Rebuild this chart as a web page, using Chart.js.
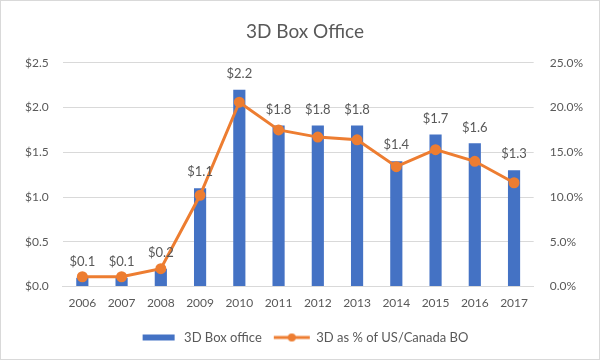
<!DOCTYPE html>
<html>
<head>
<meta charset="utf-8">
<script src="https://cdn.jsdelivr.net/npm/chart.js@4/dist/chart.umd.min.js"></script>
<style>
  html, body { margin: 0; padding: 0; background: #fff; }
  #wrap { width: 600px; height: 360px; box-sizing: border-box; border: 1px solid #d9d9d9; }
  #chart { display: block; }
</style>
</head>
<body>
<div id="wrap"><canvas id="chart" width="598" height="358"></canvas></div>
<script>
const years = ['2006', '2007', '2008', '2009', '2010', '2011', '2012', '2013', '2014', '2015', '2016', '2017'];
const boxOffice = [0.1, 0.1, 0.2, 1.1, 2.2, 1.8, 1.8, 1.8, 1.4, 1.7, 1.6, 1.3];
const sharePct = [1.1, 1.1, 2.0, 10.2, 20.6, 17.5, 16.7, 16.4, 13.4, 15.3, 14.0, 11.6];

const BLUE = '#4472C4';
const ORANGE = '#ED7D31';
const GREY = '#595959';
const FONT = 'Lato, "Open Sans", sans-serif';

// little pictures for the legend
function legendIcon(kind) {
  const c = document.createElement('canvas');
  c.width = 38; c.height = 10;
  const g = c.getContext('2d');
  if (kind === 'bar') {
    g.fillStyle = BLUE;
    g.fillRect(2, 2, 32, 6);
  } else {
    g.strokeStyle = ORANGE;
    g.lineWidth = 3;
    g.beginPath(); g.moveTo(1, 5); g.lineTo(37, 5); g.stroke();
    g.fillStyle = ORANGE;
    g.beginPath(); g.arc(19, 5, 4, 0, Math.PI * 2); g.fill();
  }
  return c;
}

// "$x.x" above each bar
const barLabels = {
  id: 'barLabels',
  afterDatasetsDraw(chart) {
    const ctx = chart.ctx;
    const meta = chart.getDatasetMeta(1);
    ctx.save();
    ctx.font = '13px ' + FONT;
    ctx.fillStyle = GREY;
    ctx.textAlign = 'center';
    ctx.textBaseline = 'middle';
    meta.data.forEach((bar, i) => {
      ctx.fillText('$' + boxOffice[i].toFixed(1), bar.x, bar.y - 16);
    });
    ctx.restore();
  }
};

new Chart(document.getElementById('chart'), {
  type: 'bar',
  data: {
    labels: years,
    datasets: [
      {
        type: 'line',
        label: '3D as % of US/Canada BO',
        data: sharePct,
        yAxisID: 'y2',
        borderColor: ORANGE,
        backgroundColor: ORANGE,
        borderWidth: 3,
        pointRadius: 4,
        pointHoverRadius: 4,
        tension: 0,
        order: 0
      },
      {
        type: 'bar',
        label: '3D Box office',
        data: boxOffice,
        yAxisID: 'y',
        backgroundColor: BLUE,
        categoryPercentage: 1,
        barPercentage: 0.31,
        order: 1
      }
    ]
  },
  options: {
    responsive: false,
    animation: false,
    layout: { padding: { left: 10, right: 0, top: 7, bottom: 5 } },
    plugins: {
      title: {
        display: true,
        text: '3D Box Office',
        color: GREY,
        font: { family: FONT, size: 19, weight: 'normal' },
        padding: { top: 12, bottom: 20 }
      },
      legend: {
        position: 'bottom',
        labels: {
          color: GREY,
          font: { family: FONT, size: 13 },
          usePointStyle: true,
          pointStyleWidth: 36,
          boxHeight: 10,
          padding: 12,
          generateLabels: () => [
            { text: '3D Box office', pointStyle: legendIcon('bar'), fontColor: GREY, datasetIndex: 1, lineWidth: 0 },
            { text: '3D as % of US/Canada BO', pointStyle: legendIcon('line'), fontColor: GREY, datasetIndex: 0, lineWidth: 0 }
          ]
        }
      },
      tooltip: { enabled: false }
    },
    scales: {
      x: {
        grid: { display: false, drawTicks: false },
        border: { color: '#d9d9d9' },
        ticks: { color: GREY, font: { family: FONT, size: 12 }, padding: 9 }
      },
      y: {
        position: 'left',
        min: 0, max: 2.5,
        ticks: {
          stepSize: 0.5,
          color: GREY,
          font: { family: FONT, size: 12 },
          padding: 14,
          callback: v => '$' + v.toFixed(1)
        },
        grid: { color: '#d9d9d9', drawTicks: false },
        border: { display: false }
      },
      y2: {
        position: 'right',
        min: 0, max: 25,
        ticks: {
          stepSize: 5,
          color: GREY,
          font: { family: FONT, size: 12 },
          padding: 16,
          callback: v => v.toFixed(1) + '%'
        },
        grid: { display: false, drawTicks: false },
        border: { display: false }
      }
    }
  },
  plugins: [barLabels]
});
</script>
</body>
</html>
